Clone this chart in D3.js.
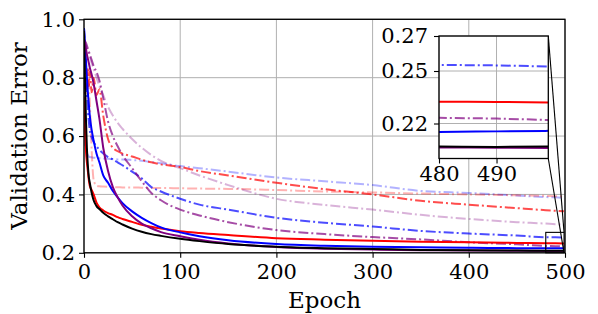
<!DOCTYPE html>
<html>
<head>
<meta charset="utf-8">
<script src="https://cdn.jsdelivr.net/npm/d3@7"></script>
<style>
body { margin: 0; background: #fff; }
svg { font-family: "DejaVu Serif", serif; }
</style>
</head>
<body>
<div class="container"></div>
<script>
var epochs = [0,1,2,3,4,5,6,8,10,13,16,20,25,30,35,40,50,60,70,80,100,120,150,200,250,300,350,400,450,480,490,499];

var blackSolid  = [0.96,0.80,0.66,0.56,0.50,0.46,0.44,0.405,0.38,0.36,0.35,0.337,0.325,0.315,0.305,0.297,0.283,0.272,0.264,0.258,0.248,0.240,0.230,0.221,0.216,0.213,0.210,0.2085,0.2075,0.2068,0.2066,0.2068];
var redSolid    = [0.72,0.62,0.55,0.51,0.48,0.45,0.43,0.415,0.40,0.372,0.356,0.345,0.336,0.330,0.322,0.316,0.306,0.296,0.289,0.283,0.274,0.268,0.261,0.250,0.245,0.241,0.238,0.236,0.234,0.2325,0.2323,0.2320];
var blueSolid   = [0.97,0.92,0.86,0.80,0.75,0.71,0.67,0.62,0.585,0.54,0.51,0.465,0.44,0.412,0.39,0.37,0.342,0.320,0.302,0.287,0.270,0.257,0.243,0.230,0.224,0.221,0.219,0.217,0.216,0.2152,0.2155,0.2158];
var purpleSolid = [0.93,0.92,0.90,0.88,0.865,0.85,0.835,0.81,0.78,0.72,0.66,0.56,0.48,0.425,0.39,0.362,0.325,0.300,0.284,0.271,0.257,0.245,0.232,0.220,0.214,0.211,0.209,0.208,0.207,0.2063,0.2062,0.2060];
var blueDash    = [0.97,0.90,0.82,0.75,0.69,0.65,0.62,0.595,0.58,0.565,0.553,0.54,0.528,0.52,0.51,0.50,0.478,0.455,0.425,0.41,0.385,0.365,0.348,0.320,0.303,0.290,0.275,0.266,0.259,0.2535,0.2532,0.2525];
var purpleDash  = [0.93,0.925,0.92,0.91,0.90,0.89,0.88,0.86,0.84,0.82,0.79,0.73,0.65,0.60,0.565,0.535,0.49,0.445,0.405,0.380,0.348,0.328,0.305,0.278,0.264,0.254,0.246,0.236,0.229,0.2233,0.2228,0.2220];
var redDash     = [0.70,0.75,0.80,0.76,0.83,0.77,0.82,0.75,0.80,0.74,0.76,0.67,0.59,0.56,0.548,0.54,0.53,0.519,0.51,0.503,0.494,0.480,0.465,0.440,0.418,0.400,0.378,0.365,0.353,0.346,0.344,0.342];
var blueLight   = [0.60,0.57,0.555,0.545,0.535,0.53,0.528,0.527,0.526,0.525,0.524,0.523,0.522,0.521,0.52,0.52,0.518,0.515,0.511,0.507,0.497,0.490,0.478,0.458,0.445,0.432,0.412,0.405,0.396,0.391,0.390,0.388];
var purpleLight = [0.93,0.92,0.91,0.90,0.89,0.88,0.87,0.85,0.83,0.80,0.77,0.74,0.70,0.67,0.645,0.625,0.59,0.56,0.535,0.515,0.49,0.465,0.432,0.385,0.364,0.348,0.330,0.316,0.305,0.300,0.298,0.297];
var redLight    = [0.62,0.70,0.78,0.80,0.76,0.79,0.72,0.55,0.45,0.43,0.428,0.427,0.426,0.425,0.425,0.424,0.424,0.423,0.422,0.422,0.421,0.420,0.419,0.415,0.410,0.407,0.403,0.400,0.397,0.395,0.394,0.393];

var xTicks = [0,100,200,300,400,500];
var yTicks = [0.2,0.4,0.6,0.8,1.0];
var insetXTicks = [480,490];
var insetYTicks = [0.22,0.25,0.27];

const WIDTH = 598;
const HEIGHT = 314;
const DASHDOT = '10,3,2,3';
const FONT = '"DejaVu Serif", serif';

// drawing order: faint dash-dot first, solid on top
var series = [
	{values: blueLight,   color: '#0000ff', opacity: 0.3, dash: DASHDOT},
	{values: redLight,    color: '#ff0000', opacity: 0.3, dash: DASHDOT},
	{values: purpleLight, color: '#800080', opacity: 0.3, dash: DASHDOT},
	{values: redDash,     color: '#ff0000', opacity: 0.7, dash: DASHDOT},
	{values: blueDash,    color: '#0000ff', opacity: 0.7, dash: DASHDOT},
	{values: purpleDash,  color: '#800080', opacity: 0.7, dash: DASHDOT},
	{values: redSolid,    color: '#ff0000', opacity: 1, dash: null},
	{values: blueSolid,   color: '#0000ff', opacity: 1, dash: null},
	{values: purpleSolid, color: '#800080', opacity: 1, dash: null},
	{values: blackSolid,  color: '#000000', opacity: 1, dash: null}
];

var svg = d3.select('.container').append('svg')
	.attr('width', WIDTH)
	.attr('height', HEIGHT);

var drawPanel = function(g, x, y, xt, yt, id, opts) {
	var x0 = x.range()[0], x1 = x.range()[1];
	var y0 = y.range()[0], y1 = y.range()[1];

	g.append('rect')
		.attr('x', x0).attr('y', y1)
		.attr('width', x1 - x0).attr('height', y0 - y1)
		.attr('fill', '#fff');

	g.append('clipPath').attr('id', id)
		.append('rect')
		.attr('x', x0).attr('y', y1)
		.attr('width', x1 - x0).attr('height', y0 - y1);

	var grid = g.append('g').attr('stroke', '#b0b0b0').attr('stroke-width', 1);
	grid.selectAll('.gx').data(xt).enter().append('line')
		.attr('x1', d => x(d)).attr('x2', d => x(d))
		.attr('y1', y0).attr('y2', y1);
	grid.selectAll('.gy').data(yt).enter().append('line')
		.attr('y1', d => y(d)).attr('y2', d => y(d))
		.attr('x1', x0).attr('x2', x1);

	var line = d3.line()
		.x(function(d, i) { return x(epochs[i]); })
		.y(function(d) { return y(d); })
		.curve(d3.curveMonotoneX);

	var lines = g.append('g').attr('clip-path', 'url(#' + id + ')');
	series.forEach(function(s) {
		lines.append('path')
			.datum(s.values)
			.attr('d', line)
			.attr('fill', 'none')
			.attr('stroke', s.color)
			.attr('stroke-opacity', s.opacity)
			.attr('stroke-width', 2)
			.attr('stroke-dasharray', s.dash);
	});

	var xAxis = d3.axisBottom(x).tickValues(xt).tickSize(5).tickPadding(opts.xpad).tickFormat(d3.format('d'));
	g.append('g')
		.attr('transform', 'translate(0,' + y0 + ')')
		.call(xAxis)
		.attr('font-family', FONT)
		.attr('font-size', opts.fs)
		.call(a => a.select('.domain').remove())
		.selectAll('text').attr('fill', '#000');

	var yAxis = d3.axisLeft(y).tickValues(yt).tickSize(5).tickPadding(opts.ypad).tickFormat(opts.yfmt);
	g.append('g')
		.attr('transform', 'translate(' + x0 + ',0)')
		.call(yAxis)
		.attr('font-family', FONT)
		.attr('font-size', opts.fs)
		.call(a => a.select('.domain').remove())
		.selectAll('text').attr('fill', '#000');

	g.selectAll('.tick line').attr('stroke', '#000').attr('stroke-width', 1.1);

	g.append('rect')
		.attr('x', x0).attr('y', y1)
		.attr('width', x1 - x0).attr('height', y0 - y1)
		.attr('fill', 'none')
		.attr('stroke', '#000')
		.attr('stroke-width', 1.3);
};

// main axes
var xScale = d3.scaleLinear().domain([0, 500]).range([84, 565]);
var yScale = d3.scaleLinear().domain([0.2, 1.0]).range([252.8, 19.3]);
drawPanel(svg.append('g'), xScale, yScale, xTicks, yTicks, 'clipMain',
	{fs: 21, xpad: 6, ypad: 4, yfmt: d3.format('.1f')});

svg.append('text')
	.attr('x', (84 + 565) / 2).attr('y', 308)
	.attr('text-anchor', 'middle')
	.attr('font-size', 23)
	.text('Epoch');

svg.append('text')
	.attr('transform', 'translate(27,136) rotate(-90)')
	.attr('text-anchor', 'middle')
	.attr('font-size', 23)
	.text('Validation Error');

// zoom box on the main axes and connectors
var zx = [480, 499], zy = [0.2, 0.27];
var insetX = d3.scaleLinear().domain(zx).range([439, 548.3]);
var insetY = d3.scaleLinear().domain(zy).range([158.5, 36]);

svg.append('rect')
	.attr('x', xScale(zx[0])).attr('y', yScale(zy[1]))
	.attr('width', xScale(zx[1]) - xScale(zx[0]))
	.attr('height', yScale(zy[0]) - yScale(zy[1]))
	.attr('fill', 'none').attr('stroke', '#000').attr('stroke-width', 1.1);

svg.append('line')
	.attr('x1', insetX(zx[1])).attr('y1', insetY(zy[1]))
	.attr('x2', xScale(zx[1])).attr('y2', yScale(zy[1]))
	.attr('stroke', '#000').attr('stroke-width', 1.1);
svg.append('line')
	.attr('x1', insetX(zx[1])).attr('y1', insetY(zy[0]))
	.attr('x2', xScale(zx[1])).attr('y2', yScale(zy[0]))
	.attr('stroke', '#000').attr('stroke-width', 1.1);

// inset
drawPanel(svg.append('g'), insetX, insetY, insetXTicks, insetYTicks, 'clipInset',
	{fs: 21, xpad: 3, ypad: 6, yfmt: d3.format('.2f')});
</script>
</body>
</html>
